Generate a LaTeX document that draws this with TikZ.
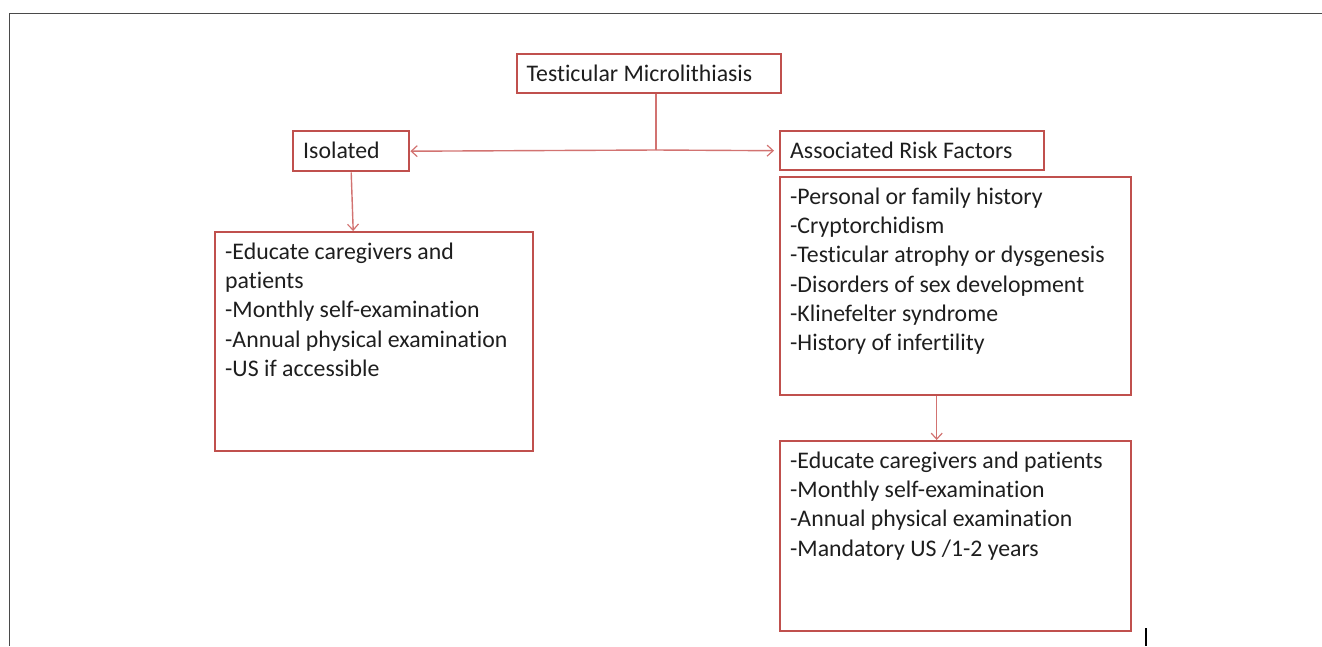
\documentclass[tikz,border=0pt]{standalone}
\usepackage{fontspec}
\setmainfont[Ligatures=NoCommon]{Carlito}
\usetikzlibrary{arrows.meta}
\definecolor{boxred}{HTML}{C0504D}
\definecolor{linered}{HTML}{D27371}
\definecolor{frame}{HTML}{4A4A4A}
\definecolor{txt}{HTML}{1E1E1E}
\tikzset{
  x=1pt, y=-1pt,
  box/.style={draw=boxred, line width=2.4pt, rectangle, inner sep=0pt, anchor=north west},
  boxtext/.style={label={[anchor=north west, inner sep=0pt, align=left, text=txt,
      font=\fontsize{23.8}{29.3}\selectfont, xshift=11pt, yshift=-11.5pt]north west:{#1}}},
  conn/.style={draw=linered, line width=1.4pt},
  arr/.style={conn, -{Straight Barb[length=6pt, width=11pt, line width=1.2pt]}}
}
\begin{document}
\begin{tikzpicture}
\useasboundingbox (0,0) rectangle (1322,646);
% outer frame
\draw[frame, line width=1.6pt] (1322,13.3) -- (9.5,13.3) -- (9.5,646);
% boxes
\node[box, minimum width=264pt, minimum height=39pt, boxtext={Testicular Microlithiasis}] (top) at (515.5,53) {};
\node[box, minimum width=116pt, minimum height=40pt, boxtext={Isolated}] (iso) at (292,130) {};
\node[box, minimum width=264pt, minimum height=39pt, boxtext={Associated Risk Factors}] (arf) at (779,130) {};
\node[box, minimum width=318pt, minimum height=219pt,
  boxtext={-Educate caregivers and\\patients\\-Monthly self-examination\\-Annual physical examination\\-US if accessible}] (left) at (214,231) {};
\node[box, minimum width=351pt, minimum height=218pt,
  boxtext={-Personal or family history\\-Cryptorchidism\\-Testicular atrophy or dysgenesis\\-Disorders of sex development\\-Klinefelter syndrome\\-History of infertility}] (risk) at (779,176) {};
\node[box, minimum width=351pt, minimum height=190pt,
  boxtext={-Educate caregivers and patients\\-Monthly self-examination\\-Annual physical examination\\-Mandatory US /1-2 years}] (bot) at (779,440) {};
% connectors
\coordinate (j) at (656,150);
\draw[conn] (top.south -| j) -- (j);
\draw[arr] (j) -- (iso.east);
\draw[arr] (j) -- ([xshift=-5pt]arf.west);
\draw[arr] (iso.south) -- ([xshift=2pt]iso.south |- left.north);
\draw[arr] ([xshift=-19pt]risk.south) -- ([xshift=-19pt]bot.north);
% black bar bottom right
\draw[black, line width=2pt] (1145.5,628) -- (1145.5,646);
\end{tikzpicture}
\end{document}
